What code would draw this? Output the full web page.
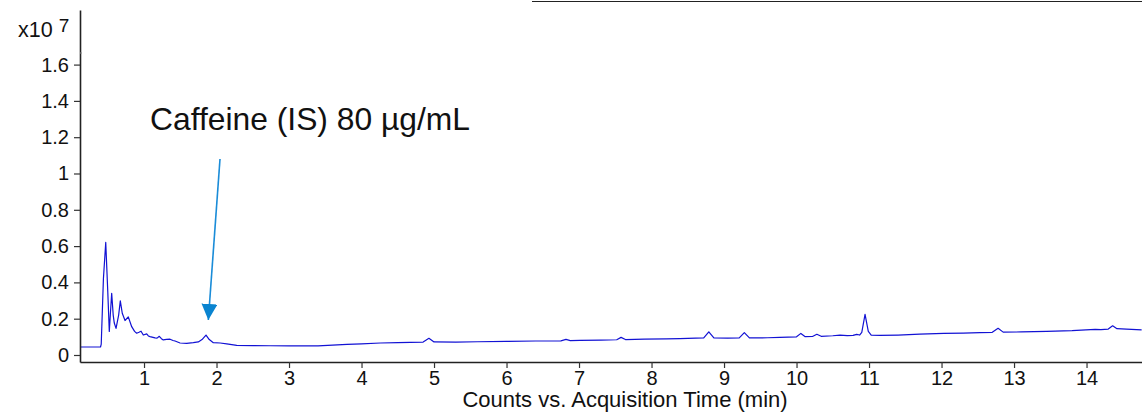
<!DOCTYPE html>
<html>
<head>
<meta charset="utf-8">
<script src="https://cdn.jsdelivr.net/npm/d3@7"></script>
<style>
  body { margin: 0; background: #fff; }
  svg { display: block; font-family: 'Liberation Sans', Arial, sans-serif; }
</style>
</head>
<body>
<div class="chrom"></div>
<script>
const WIDTH = 1142;
const HEIGHT = 417;
const MARGIN = { top: 10, right: 0, bottom: 55, left: 80 };

// retention time (min) and counts (x10^7)
const times = [
	0.12, 0.40, 0.41, 0.44, 0.472, 0.50, 0.521, 0.535, 0.554, 0.575,
	0.59, 0.614, 0.65, 0.673, 0.70, 0.738, 0.783, 0.83, 0.87, 0.899,
	0.93, 0.959, 0.99, 1.037, 1.06, 1.083, 1.152, 1.18, 1.211, 1.24,
	1.266, 1.31, 1.359, 1.40, 1.428, 1.497, 1.589, 1.68, 1.749, 1.80,
	1.855, 1.90, 1.956, 2.05, 2.141, 2.279, 2.5, 2.738, 3.0, 3.2,
	3.4, 3.6, 3.8, 4.0, 4.26, 4.5, 4.85, 4.93, 5.0, 5.3,
	5.6, 6.0, 6.4, 6.75, 6.82, 6.88, 7.01, 7.3, 7.52, 7.58,
	7.64, 7.9, 8.2, 8.39, 8.72, 8.79, 8.86, 9.05, 9.21, 9.28,
	9.35, 9.6, 9.77, 10.0, 10.06, 10.12, 10.22, 10.28, 10.34, 10.5,
	10.6, 10.7, 10.78, 10.83, 10.87, 10.90, 10.945, 10.99, 11.03, 11.15,
	11.4, 11.7, 12.03, 12.3, 12.53, 12.7, 12.78, 12.85, 13.1, 13.45,
	13.8, 14.12, 14.2, 14.3, 14.36, 14.42, 14.55, 14.76
];
const counts = [
	0.044, 0.044, 0.06, 0.42, 0.62, 0.35, 0.13, 0.22, 0.34, 0.22,
	0.176, 0.147, 0.22, 0.298, 0.23, 0.19, 0.21, 0.156, 0.13, 0.12,
	0.125, 0.131, 0.11, 0.116, 0.105, 0.101, 0.094, 0.093, 0.103, 0.09,
	0.083, 0.086, 0.087, 0.08, 0.077, 0.066, 0.064, 0.068, 0.072, 0.085,
	0.11, 0.085, 0.068, 0.066, 0.061, 0.053, 0.052, 0.051, 0.05, 0.05,
	0.05, 0.054, 0.058, 0.061, 0.066, 0.068, 0.071, 0.092, 0.072, 0.071,
	0.073, 0.075, 0.077, 0.078, 0.086, 0.079, 0.08, 0.082, 0.084, 0.097,
	0.085, 0.087, 0.089, 0.09, 0.094, 0.128, 0.094, 0.093, 0.094, 0.123,
	0.094, 0.095, 0.097, 0.1, 0.119, 0.101, 0.102, 0.114, 0.103, 0.106,
	0.11, 0.107, 0.108, 0.114, 0.11, 0.125, 0.224, 0.13, 0.11, 0.108,
	0.11, 0.115, 0.119, 0.121, 0.123, 0.125, 0.147, 0.126, 0.127, 0.13,
	0.134, 0.141, 0.14, 0.143, 0.161, 0.145, 0.142, 0.138
];

const xTicks = [1, 2, 3, 4, 5, 6, 7, 8, 9, 10, 11, 12, 13, 14];
const yTicks = [0, 0.2, 0.4, 0.6, 0.8, 1, 1.2, 1.4, 1.6];

const annotation = 'Caffeine (IS) 80 \u00b5g/mL';
const arrowFrom = [2.048, 1.08];
const arrowTo = [1.887, 0.193];

const svg = d3
	.select('.chrom')
	.append('svg')
	.attr('width', WIDTH)
	.attr('height', HEIGHT);

const xScale = d3
	.scaleLinear()
	.domain([0.117, 14.765])
	.range([MARGIN.left, WIDTH - MARGIN.right]);

const yScale = d3
	.scaleLinear()
	.domain([-0.0386, 1.9008])
	.range([HEIGHT - MARGIN.bottom, MARGIN.top]);

// clip for the trace
svg.append('clipPath')
	.attr('id', 'plot-clip')
	.append('rect')
	.attr('x', MARGIN.left)
	.attr('y', MARGIN.top)
	.attr('width', WIDTH - MARGIN.left)
	.attr('height', HEIGHT - MARGIN.top - MARGIN.bottom);

// frame fragment at the top
svg.append('line')
	.attr('x1', 532)
	.attr('x2', WIDTH)
	.attr('y1', 1.5)
	.attr('y2', 1.5)
	.attr('stroke', '#222')
	.attr('stroke-width', 1.2);

// the trace
const line = d3
	.line()
	.x((d, i) => xScale(times[i]))
	.y(d => yScale(d));

svg.append('path')
	.datum(counts)
	.attr('clip-path', 'url(#plot-clip)')
	.attr('fill', 'none')
	.attr('stroke', '#1212d4')
	.attr('stroke-width', 1.2)
	.attr('stroke-linejoin', 'round')
	.attr('d', line);

// axes
const xAxis = d3
	.axisBottom(xScale)
	.tickValues(xTicks)
	.tickSize(6)
	.tickSizeOuter(0)
	.tickPadding(3)
	.tickFormat(d3.format('d'));

svg.append('g')
	.attr('transform', `translate(0, ${HEIGHT - MARGIN.bottom})`)
	.call(xAxis)
	.call(g => g.select('.domain').attr('stroke', '#222').attr('stroke-width', 1.6))
	.call(g => g.selectAll('.tick line').attr('stroke', '#333').attr('stroke-width', 1.2))
	.call(g => g.selectAll('text').attr('font-size', 20).attr('fill', '#111').attr('font-family', 'Liberation Sans, Arial, sans-serif'));

const yAxis = d3
	.axisLeft(yScale)
	.tickValues(yTicks)
	.tickSize(6)
	.tickSizeOuter(0)
	.tickPadding(5)
	.tickFormat(d => d === 0 || d === 1 ? String(d) : d3.format('.1f')(d));

svg.append('g')
	.attr('transform', `translate(${MARGIN.left}, 0)`)
	.call(yAxis)
	.call(g => g.select('.domain').attr('stroke', '#222').attr('stroke-width', 1.6))
	.call(g => g.selectAll('.tick line').attr('stroke', '#333').attr('stroke-width', 1.2))
	.call(g => g.selectAll('text').attr('font-size', 20).attr('fill', '#111').attr('font-family', 'Liberation Sans, Arial, sans-serif'));

// stray minor mark on the y axis
svg.append('line')
	.attr('x1', MARGIN.left)
	.attr('x2', MARGIN.left + 2)
	.attr('y1', 53)
	.attr('y2', 53)
	.attr('stroke', '#888')
	.attr('stroke-width', 1);

// exponent label
const expo = svg.append('text')
	.attr('x', 18)
	.attr('y', 37)
	.attr('font-size', 21.5)
	.attr('fill', '#111');
expo.append('tspan').text('x10 ');
expo.append('tspan').attr('font-size', 19).attr('dy', -5).text('7');

// x label
svg.append('text')
	.attr('x', 625)
	.attr('y', 407)
	.attr('text-anchor', 'middle')
	.attr('font-size', 22)
	.attr('fill', '#111')
	.text('Counts vs. Acquisition Time (min)');

// annotation
svg.append('text')
	.attr('x', xScale(1.083))
	.attr('y', yScale(1.24))
	.attr('font-size', 31.8)
	.attr('fill', '#111')
	.text(annotation);

svg.append('defs')
	.append('marker')
	.attr('id', 'head')
	.attr('viewBox', '0 0 10 10')
	.attr('refX', 10)
	.attr('refY', 5)
	.attr('markerUnits', 'userSpaceOnUse')
	.attr('markerWidth', 16)
	.attr('markerHeight', 16)
	.attr('orient', 'auto')
	.append('path')
	.attr('d', 'M0,0 L10,5 L0,10 Z')
	.attr('fill', '#0a84d0');

svg.append('line')
	.attr('x1', xScale(arrowFrom[0]))
	.attr('y1', yScale(arrowFrom[1]))
	.attr('x2', xScale(arrowTo[0]))
	.attr('y2', yScale(arrowTo[1]))
	.attr('stroke', '#1a8cd8')
	.attr('stroke-width', 1.6)
	.attr('marker-end', 'url(#head)');
</script>
</body>
</html>
